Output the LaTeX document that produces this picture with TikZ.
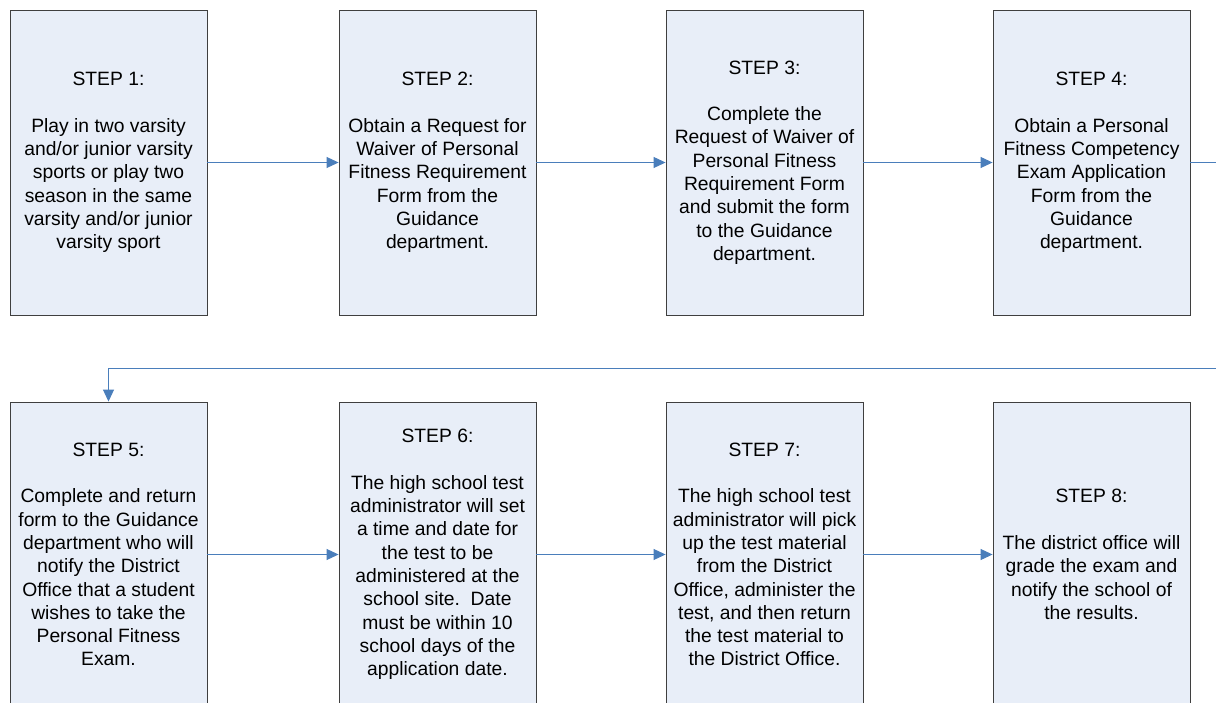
\documentclass[tikz,border=0pt]{standalone}
\usepackage{fontspec}
\setmainfont{Liberation Sans}
\usetikzlibrary{arrows.meta}
\definecolor{boxfill}{HTML}{E8EEF8}
\definecolor{boxline}{HTML}{3F3F3F}
\definecolor{flow}{HTML}{4A7EBB}
\begin{document}
\begin{tikzpicture}[x=1pt,y=-1pt,
  stepbox/.style={draw=boxline,fill=boxfill,line width=0.9pt,
    minimum width=197pt,minimum height=305pt,inner sep=0pt,
    align=center,text=black,font=\fontsize{19.3}{23.3}\selectfont},
  flowline/.style={draw=flow,line width=1pt,
    -{Triangle[length=12pt,width=11pt]}}]
\useasboundingbox (0,0) rectangle (1216,703);
\clip (0,0) rectangle (1216,703);
\fill[white] (0,0) rectangle (1216,703);

% first row
\node[stepbox] (s1) at (108.5,162.5) {STEP 1:\\[23.3pt]Play in two varsity\\and/or junior varsity\\sports or play two\\season in the same\\varsity and/or junior\\varsity sport};
\node[stepbox] (s2) at (437.5,162.5) {STEP 2:\\[23.3pt]Obtain a Request for\\Waiver of Personal\\Fitness Requirement\\Form from the\\Guidance\\department.};
\node[stepbox] (s3) at (764.5,162.5) {STEP 3:\\[23.3pt]Complete the\\Request of Waiver of\\Personal Fitness\\Requirement Form\\and submit the form\\to the Guidance\\department.};
\node[stepbox] (s4) at (1091.5,162.5) {STEP 4:\\[23.3pt]Obtain a Personal\\Fitness Competency\\Exam Application\\Form from the\\Guidance\\department.};

% second row
\node[stepbox] (s5) at (108.5,554.5) {STEP 5:\\[23.3pt]Complete and return\\form to the Guidance\\department who will\\notify the District\\Office that a student\\wishes to take the\\Personal Fitness\\Exam.};
\node[stepbox] (s6) at (437.5,554.5) {STEP 6:\\[23.3pt]The high school test\\administrator will set\\a time and date for\\the test to be\\administered at the\\school site.\ \ Date\\must be within 10\\school days of the\\application date.};
\node[stepbox] (s7) at (764.5,554.5) {STEP 7:\\[23.3pt]The high school test\\administrator will pick\\up the test material\\from the District\\Office, administer the\\test, and then return\\the test material to\\the District Office.};
\node[stepbox] (s8) at (1091.5,554.5) {STEP 8:\\[23.3pt]The district office will\\grade the exam and\\notify the school of\\the results.};

% connectors
\coordinate (turnA) at (1240,162.5);
\coordinate (turnB) at (1240,369);
\draw[flowline] (s1.east) -- (s2.west);
\draw[flowline] (s2.east) -- (s3.west);
\draw[flowline] (s3.east) -- (s4.west);
\draw[flowline] (s4.east) -- (turnA) -- (turnB) -| (s5.north);
\draw[flowline] (s5.east) -- (s6.west);
\draw[flowline] (s6.east) -- (s7.west);
\draw[flowline] (s7.east) -- (s8.west);
\end{tikzpicture}
\end{document}
